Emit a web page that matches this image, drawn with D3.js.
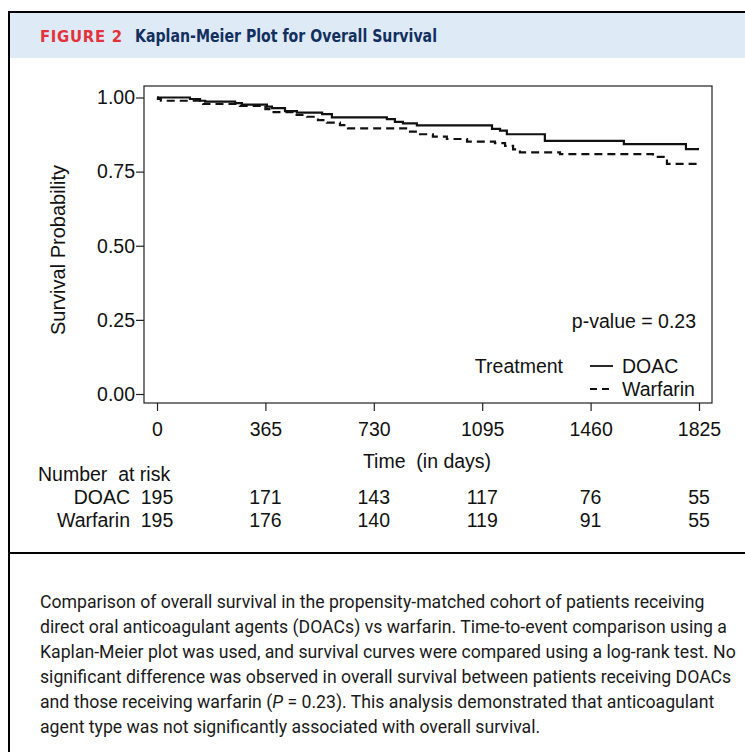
<!DOCTYPE html>
<html>
<head>
<meta charset="utf-8">
<script src="https://cdn.jsdelivr.net/npm/d3@7"></script>
<style>
  body { margin: 0; background: #fff; }
  svg { display: block; }
</style>
</head>
<body>
<svg width="745" height="752"></svg>
<script>
// Kaplan-Meier curves (days, survival)
const doacTime = [0, 111, 145, 162, 263, 286, 370, 387, 431, 471, 556, 589, 774, 801, 828, 875, 1128, 1155, 1178, 1306, 1572, 1781, 1825];
const doacSurv = [1, 0.995, 0.989, 0.986, 0.981, 0.976, 0.969, 0.964, 0.954, 0.949, 0.944, 0.933, 0.927, 0.918, 0.913, 0.906, 0.894, 0.888, 0.876, 0.854, 0.843, 0.826, 0.826];

const warfTime = [0, 3, 13, 155, 279, 365, 387, 458, 505, 542, 572, 616, 643, 852, 886, 929, 976, 1044, 1138, 1172, 1199, 1222, 1357, 1670, 1717, 1825];
const warfSurv = [1, 0.995, 0.989, 0.978, 0.972, 0.961, 0.951, 0.941, 0.935, 0.924, 0.915, 0.907, 0.896, 0.885, 0.876, 0.868, 0.860, 0.851, 0.846, 0.837, 0.825, 0.815, 0.809, 0.800, 0.776, 0.776];

// axes + risk table
const xTicks = [0, 365, 730, 1095, 1460, 1825];
const yTicks = [0, 0.25, 0.5, 0.75, 1];
const riskGroups = ["DOAC", "Warfarin"];
const doacRisk = [195, 171, 143, 117, 76, 55];
const warfRisk = [195, 176, 140, 119, 91, 55];

const caption = [
  "Comparison of overall survival in the propensity-matched cohort of patients receiving",
  "direct oral anticoagulant agents (DOACs) vs warfarin. Time-to-event comparison using a",
  "Kaplan-Meier plot was used, and survival curves were compared using a log-rank test. No",
  "significant difference was observed in overall survival between patients receiving DOACs",
  "and those receiving warfarin (P = 0.23). This analysis demonstrated that anticoagulant",
  "agent type was not significantly associated with overall survival."
];

var svg = d3.select("svg");
var arial = "'Liberation Sans', Arial, sans-serif";
var fs = 19.5;

// header band + figure frame
svg.append("rect").attr("x", 9).attr("y", 13).attr("width", 736).attr("height", 45).attr("fill", "#deeaf6");
svg.append("line").attr("x1", 8).attr("x2", 745).attr("y1", 12).attr("y2", 12).attr("stroke", "#000").attr("stroke-width", 2);
svg.append("line").attr("x1", 9).attr("x2", 9).attr("y1", 11).attr("y2", 752).attr("stroke", "#000").attr("stroke-width", 2);
svg.append("line").attr("x1", 9).attr("x2", 745).attr("y1", 553).attr("y2", 553).attr("stroke", "#000").attr("stroke-width", 2);

// condensed bold heading, squeezed to the widths seen in the picture
svg.append("text").attr("x", 40).attr("y", 42)
  .attr("font-family", "'DejaVu Sans Condensed', 'DejaVu Sans', sans-serif")
  .attr("font-weight", "bold").attr("font-size", 16.5)
  .attr("textLength", 82).attr("lengthAdjust", "spacing")
  .attr("fill", "#e4323b").text("FIGURE 2");
svg.append("text").attr("x", 135).attr("y", 42)
  .attr("font-family", "'DejaVu Sans Condensed', 'DejaVu Sans', sans-serif")
  .attr("font-weight", "bold").attr("font-size", 17.5)
  .attr("textLength", 302).attr("lengthAdjust", "spacingAndGlyphs")
  .attr("fill", "#12305f").text("Kaplan-Meier Plot for Overall Survival");

// plot
var x = d3.scaleLinear().domain([0, 1825]).range([157, 699]);
var y = d3.scaleLinear().domain([0, 1]).range([394, 97.5]);

svg.append("rect").attr("x", 144).attr("y", 86).attr("width", 568).attr("height", 317)
  .attr("fill", "none").attr("stroke", "#222").attr("stroke-width", 1.2);

var yAxis = svg.append("g").attr("transform", "translate(144,0)")
  .call(d3.axisLeft(y).tickValues(yTicks).tickFormat(d3.format(".2f")).tickSize(8).tickPadding(1));
var xAxis = svg.append("g").attr("transform", "translate(0,403)")
  .call(d3.axisBottom(x).tickValues(xTicks).tickFormat(d3.format("d")).tickSize(8).tickPadding(11));
[yAxis, xAxis].forEach(function (a) {
  a.select(".domain").remove();
  a.selectAll("line").attr("stroke", "#222").attr("stroke-width", 1.2);
  a.selectAll("text").attr("font-family", arial).attr("font-size", fs).attr("fill", "#111");
});

var line = d3.line().curve(d3.curveStepAfter)
  .x(function (d) { return x(d[0]); })
  .y(function (d) { return y(d[1]); });

svg.append("path").datum(d3.zip(doacTime, doacSurv)).attr("d", line)
  .attr("fill", "none").attr("stroke", "#111").attr("stroke-width", 2.2);
svg.append("path").datum(d3.zip(warfTime, warfSurv)).attr("d", line)
  .attr("fill", "none").attr("stroke", "#111").attr("stroke-width", 2.2)
  .attr("stroke-dasharray", "8,5");

// axis titles
svg.append("text").attr("transform", "translate(65,250) rotate(-90)")
  .attr("text-anchor", "middle").attr("font-family", arial).attr("font-size", 20)
  .attr("fill", "#111").text("Survival Probability");
svg.append("text").attr("x", 427).attr("y", 468).attr("text-anchor", "middle")
  .attr("font-family", arial).attr("font-size", fs).attr("fill", "#111")
  .attr("xml:space", "preserve").text("Time  (in days)");

// p-value and legend
svg.append("text").attr("x", 696).attr("y", 328).attr("text-anchor", "end")
  .attr("font-family", arial).attr("font-size", fs).attr("fill", "#111").text("p-value = 0.23");
svg.append("text").attr("x", 563).attr("y", 373).attr("text-anchor", "end")
  .attr("font-family", arial).attr("font-size", fs).attr("fill", "#111").text("Treatment");
var leg = svg.append("g");
riskGroups.forEach(function (g, i) {
  var ly = 366 + i * 23;
  leg.append("line").attr("x1", 590).attr("x2", 613).attr("y1", ly).attr("y2", ly)
    .attr("stroke", "#111").attr("stroke-width", 1.8)
    .attr("stroke-dasharray", i ? "7,5" : null);
  leg.append("text").attr("x", 622).attr("y", ly + 7)
    .attr("font-family", arial).attr("font-size", fs).attr("fill", "#111").text(g);
});

// number at risk
svg.append("text").attr("x", 38).attr("y", 481).attr("font-family", arial).attr("font-size", fs)
  .attr("fill", "#111").attr("xml:space", "preserve").text("Number  at risk");
[doacRisk, warfRisk].forEach(function (row, i) {
  var ry = 504 + i * 23;
  svg.append("text").attr("x", 130).attr("y", ry).attr("text-anchor", "end")
    .attr("font-family", arial).attr("font-size", fs).attr("fill", "#111").text(riskGroups[i]);
  svg.selectAll(null).data(row).enter().append("text")
    .attr("x", function (d, j) { return x(xTicks[j]); }).attr("y", ry)
    .attr("text-anchor", "middle").attr("font-family", arial).attr("font-size", fs)
    .attr("fill", "#111").text(function (d) { return d; });
});

// caption
var cap = svg.append("g").attr("font-family", "'Liberation Sans Narrow', Roboto, sans-serif")
  .attr("font-size", 17).attr("fill", "#1a1a1a");
caption.forEach(function (t, i) {
  var tx = cap.append("text").attr("x", 40).attr("y", 608 + i * 25);
  if (t.indexOf("(P = ") >= 0) {
    var parts = t.split("(P = ");
    tx.append("tspan").text(parts[0] + "(");
    tx.append("tspan").attr("font-style", "italic").text("P");
    tx.append("tspan").text(" = " + parts[1]);
  } else {
    tx.text(t);
  }
});
// widen the caption to the measured width of its first line
var w0 = cap.select("text").node().getComputedTextLength();
cap.attr("font-size", Math.min(19, 17 * 665 / w0));
</script>
</body>
</html>
